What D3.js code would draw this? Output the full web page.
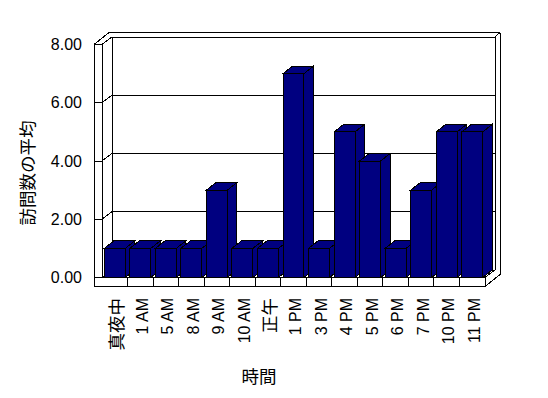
<!DOCTYPE html>
<html>
<head>
<meta charset="utf-8">
<script src="https://cdn.jsdelivr.net/npm/d3@7"></script>
<style>
  body { margin: 0; background: #fff; }
  svg { display: block; }
  text { font-family: "Liberation Sans", "Noto Sans CJK JP", sans-serif; fill: #000; }
  .ln { stroke: #000; stroke-width: 1; fill: none; shape-rendering: crispEdges; }
</style>
</head>
<body>
<svg></svg>
<script>
const w = 548
const h = 398

const categories = ['真夜中', '1 AM', '5 AM', '8 AM', '9 AM', '10 AM', '正午', '1 PM', '3 PM', '4 PM', '5 PM', '6 PM', '7 PM', '10 PM', '11 PM']
const values = [1, 1, 1, 1, 3, 1, 1, 7, 1, 5, 4, 1, 3, 5, 5]
const yTicks = [0, 2, 4, 6, 8]
const yAxisLabel = '訪問数の平均'
const xAxisLabel = '時間'

const svg = d3.select('svg')
  .attr('width', w)
  .attr('height', h);

// plot box (front plane) and depth offsets of the 3d walls
const wallLeft = 94, x0 = 102, x1 = 485
const floorBottom = 286.5
const dx = 10, dy = 7.5   // back wall inner plane
const bx = 15, by = 12    // back wall outer plane
const bdx = 9.5, bdy = 7.5 // bar depth

const xScale = d3.scaleBand()
  .domain(categories)
  .range([x0, x1])
  .paddingInner(0.18)
  .paddingOuter(0.09)

const yScale = d3.scaleLinear()
  .domain([0, 8])
  .range([277.5, 44.5])

const y0 = yScale(0), yTop = yScale(8)
const bw = xScale.bandwidth()
const gap = (xScale.step() - bw) / 2

const g = svg.append('g');

const line = (ax, ay, cx, cy) => g.append('line')
  .attr('class', 'ln')
  .attr('x1', ax).attr('y1', ay)
  .attr('x2', cx).attr('y2', cy);

// back wall gridlines + left wall inner face lines
yTicks.filter(v => v > 0 && v < 8).forEach(v => {
  line(x0 + dx, yScale(v) - dy, x1 + dx, yScale(v) - dy)
  line(x0, yScale(v), x0 + dx, yScale(v) - dy)
  line(wallLeft, yScale(v), x0, yScale(v)) // tick on wall front
})

// left wall
line(wallLeft, yTop, wallLeft, floorBottom)
line(x0, yTop, x0, y0)
line(wallLeft, yTop, x0, yTop)
line(wallLeft, yTop, wallLeft + bx, yTop - by)
line(x0, yTop, x0 + dx, yTop - dy)
line(x0 + dx, yTop - dy, x0 + dx, y0 - dy)

// back wall top + right edge
line(wallLeft + bx, yTop - by, x1 + bx, yTop - by)
line(x0 + dx, yTop - dy, x1 + dx, yTop - dy)
line(x1 + dx, yTop - dy, x1 + bx, yTop - by)
line(x1 + dx, yTop - dy, x1 + dx, y0 - dy)
line(x1 + bx, yTop - by, x1 + bx, floorBottom - by)

// floor
line(x0, y0, x0 + dx, y0 - dy)
line(x0 + dx, y0 - dy, x1 + dx, y0 - dy)
line(wallLeft, y0, x1, y0)
line(wallLeft, floorBottom, x1, floorBottom)
line(x1, y0, x1, floorBottom)
line(x1, y0, x1 + dx, y0 - dy)
line(x1, floorBottom, x1 + bx, floorBottom - by)

categories.slice(1).forEach(c => {
  const bx0 = xScale(c) - gap
  line(bx0, y0, bx0, floorBottom)
})

// bars, left to right so the right ones cover the left side faces
const bars = g.selectAll('.bar').data(categories.map((c, i) => ({ c, v: values[i] })))
  .enter().append('g')
  .attr('class', 'bar')
  .attr('fill', '#000080')
  .attr('stroke', '#000')
  .attr('stroke-linejoin', 'miter')
  .attr('shape-rendering', 'crispEdges')

bars.append('path')
  .attr('d', d => {
    const xr = xScale(d.c) + bw, yt = yScale(d.v)
    return `M${xr},${yt}L${xr + bdx},${yt - bdy}L${xr + bdx},${y0 - bdy}L${xr},${y0}Z`
  })

bars.append('path')
  .attr('d', d => {
    const xl = xScale(d.c), xr = xl + bw, yt = yScale(d.v)
    return `M${xl},${yt}L${xl + bdx},${yt - bdy}L${xr + bdx},${yt - bdy}L${xr},${yt}Z`
  })

bars.append('rect')
  .attr('x', d => xScale(d.c))
  .attr('y', d => yScale(d.v))
  .attr('width', bw)
  .attr('height', d => y0 - yScale(d.v))

// y tick labels
g.selectAll('.ytick').data(yTicks)
  .enter().append('text')
  .attr('class', 'ytick')
  .attr('x', 82)
  .attr('y', d => yScale(d))
  .attr('text-anchor', 'end')
  .attr('dominant-baseline', 'central')
  .attr('font-size', '16px')
  .text(d3.format('.2f'))

// x labels, rotated
const isCJK = s => /[\u3000-\u9fff]/.test(s)
g.selectAll('.xtick').data(categories)
  .enter().append('text')
  .attr('class', 'xtick')
  .attr('transform', d => `translate(${xScale(d) + bw / 2 + 2}, 298) rotate(-90)`)
  .attr('text-anchor', 'end')
  .attr('dominant-baseline', 'central')
  .attr('font-size', d => isCJK(d) ? '17.5px' : '16px')
  .text(d => d)

svg.append('text')
  .attr('transform', 'translate(28, 173) rotate(-90)')
  .attr('text-anchor', 'middle')
  .attr('dominant-baseline', 'central')
  .attr('font-size', '17.5px')
  .text(yAxisLabel)

svg.append('text')
  .attr('x', 259)
  .attr('y', 377)
  .attr('text-anchor', 'middle')
  .attr('dominant-baseline', 'central')
  .attr('font-size', '17.5px')
  .text(xAxisLabel)
</script>
</body>
</html>
